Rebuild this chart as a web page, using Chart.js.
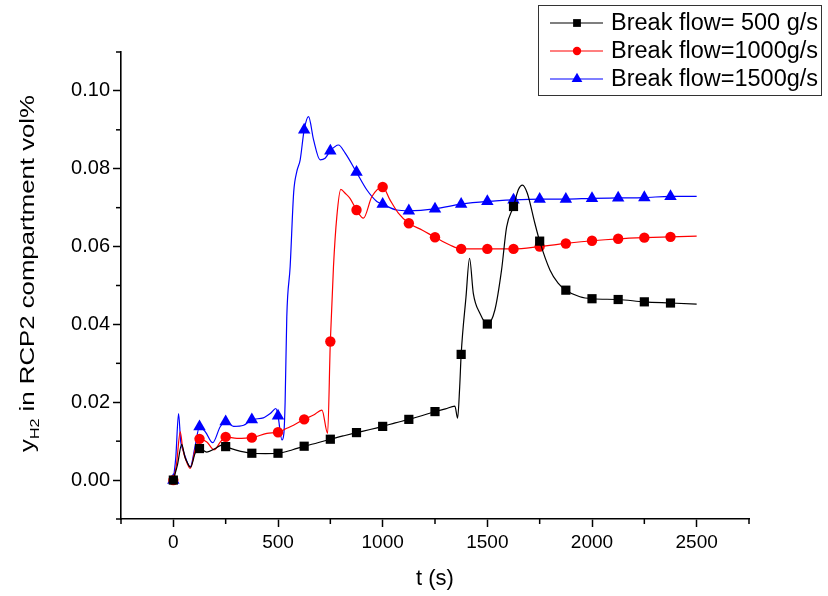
<!DOCTYPE html>
<html lang="en">
<head>
    <meta charset="UTF-8">
    <title>H2 in RCP2 compartment vs time</title>
    <script src="https://cdn.jsdelivr.net/npm/chart.js"></script>
    <style>
        html, body { margin: 0; padding: 0; background: #fff; }
        #wrap { width: 828px; height: 596px; }
    </style>
</head>
<body>
<div id="wrap"><canvas id="chart" width="828" height="596"></canvas></div>
<script>
// symbols are drawn every 125 s
const markerTimes = [0, 125, 250, 375, 500, 625, 750, 875, 1000, 1125, 1250, 1375,
                     1500, 1625, 1750, 1875, 2000, 2125, 2250, 2375];

// Break flow = 500 g/s
const t500 = [0, 20, 40, 55, 65, 82, 105, 125, 160, 200, 232, 250, 300, 375, 440, 500, 570, 625,
              690, 750, 815, 875, 940, 1000, 1060, 1125, 1190, 1250, 1300, 1345, 1358, 1368, 1375,
              1398, 1415, 1433, 1465, 1500, 1536, 1568, 1592, 1625, 1648, 1668, 1691, 1727, 1750,
              1799, 1838, 1875, 1942, 2000, 2125, 2250, 2375, 2500];
const y500 = [0, 0.004, 0.0092, 0.006, 0.0047, 0.0033, 0.007, 0.0081, 0.0072, 0.0081, 0.009, 0.0086,
              0.0077, 0.0069, 0.0068, 0.0069, 0.0078, 0.0087, 0.0096, 0.0105, 0.0114, 0.0122, 0.013,
              0.0138, 0.0147, 0.0156, 0.0166, 0.0176, 0.0183, 0.019, 0.0159, 0.024, 0.0323, 0.047,
              0.057, 0.048, 0.0428, 0.0401, 0.0437, 0.054, 0.065, 0.0703, 0.0746, 0.0758, 0.0737,
              0.066, 0.0614, 0.054, 0.0506, 0.0488, 0.0471, 0.0466, 0.0464, 0.0458, 0.0455, 0.0452];

// Break flow = 1000 g/s
const t1000 = [0, 15, 33, 45, 57, 81, 105, 125, 160, 195, 225, 250, 304, 375, 447, 500, 542, 574,
               625, 670, 710, 737, 750, 765, 781, 800, 821, 844, 875, 908, 948, 1000, 1035, 1075,
               1125, 1190, 1250, 1321, 1375, 1500, 1625, 1750, 1875, 2000, 2125, 2250, 2375, 2500];
const y1000 = [0, 0.004, 0.0124, 0.008, 0.0056, 0.003, 0.008, 0.0106, 0.0098, 0.0078, 0.0098, 0.0111,
               0.0107, 0.0109, 0.012, 0.0123, 0.0133, 0.0141, 0.0156, 0.0167, 0.018, 0.012, 0.0356,
               0.0548, 0.0677, 0.0747, 0.0737, 0.0724, 0.0694, 0.0673, 0.0728, 0.0753, 0.072, 0.0686,
               0.066, 0.0642, 0.0624, 0.0604, 0.0594, 0.0594, 0.0594, 0.06, 0.0608, 0.0615, 0.062,
               0.0623, 0.0625, 0.0627];

// Break flow = 1500 g/s
const t1500 = [0, 12, 25, 35, 49, 81, 105, 125, 153, 188, 224, 250, 288, 336, 375, 430, 463, 490,
               500, 519, 528, 534, 542, 558, 575, 590, 606, 625, 646, 670, 701, 725, 750, 789, 821,
               875, 924, 972, 1000, 1067, 1125, 1250, 1375, 1500, 1625, 1750, 1875, 2000, 2125,
               2250, 2375, 2500];
const y1500 = [0, 0.006, 0.0171, 0.01, 0.0073, 0.0034, 0.009, 0.0137, 0.0124, 0.0096, 0.0137, 0.015,
               0.0138, 0.0141, 0.0155, 0.016, 0.0171, 0.0184, 0.0165, 0.0103, 0.012, 0.02, 0.042,
               0.0548, 0.074, 0.0793, 0.0823, 0.09, 0.0934, 0.0874, 0.0823, 0.0827, 0.0846, 0.0861,
               0.084, 0.0791, 0.0746, 0.0716, 0.0709, 0.0694, 0.0692, 0.0697, 0.0709, 0.0716, 0.072,
               0.0722, 0.0722, 0.0724, 0.0725, 0.0726, 0.0729, 0.0729];

const seriesNames = ['Break flow= 500 g/s', 'Break flow=1000g/s', 'Break flow=1500g/s'];
const seriesColors = ['#000000', '#ff0000', '#0000ff'];
const seriesSymbols = ['rect', 'circle', 'triangle'];
const symbolSizes = [6.5, 5.2, 7.2];

const FONT = "'Liberation Sans', Arial, sans-serif";

function toPoints(ts, ys) {
    return ts.map((t, i) => ({ x: t, y: ys[i] }));
}

function makeSet(i, ts, ys) {
    return {
        label: seriesNames[i],
        data: toPoints(ts, ys),
        borderColor: seriesColors[i],
        backgroundColor: seriesColors[i],
        borderWidth: 1.2,
        cubicInterpolationMode: 'monotone',
        pointStyle: seriesSymbols[i],
        pointRadius: ctx => markerTimes.includes(ctx.raw.x) ? symbolSizes[i] : 0,
        pointHoverRadius: ctx => markerTimes.includes(ctx.raw.x) ? symbolSizes[i] : 0,
        pointBorderWidth: 0,
        pointBackgroundColor: seriesColors[i]
    };
}

// draw a symbol the same way Chart.js does
function drawSymbol(c, style, x, y, r, color) {
    c.fillStyle = color;
    c.beginPath();
    if (style === 'rect') {
        const s = Math.SQRT1_2 * r;
        c.rect(x - s, y - s, 2 * s, 2 * s);
    } else if (style === 'circle') {
        c.arc(x, y, r, 0, Math.PI * 2);
    } else {
        let a = 0;
        c.moveTo(x + Math.sin(a) * r, y - Math.cos(a) * r);
        a += 2 * Math.PI / 3;
        c.lineTo(x + Math.sin(a) * r, y - Math.cos(a) * r);
        a += 2 * Math.PI / 3;
        c.lineTo(x + Math.sin(a) * r, y - Math.cos(a) * r);
        c.closePath();
    }
    c.fill();
}

const isMajorX = v => Math.round(v) % 500 === 0 && v >= 0 && v <= 2500;
const isMajorY = v => { const k = Math.round(v * 100); return k % 2 === 0 && k >= 0 && k <= 10; };

const decorPlugin = {
    id: 'decor',
    afterDraw(chart) {
        const c = chart.ctx;
        const xs = chart.scales.x, ys = chart.scales.y;
        const area = chart.chartArea;
        c.save();

        // minor ticks
        c.strokeStyle = '#000';
        c.lineWidth = 1.5;
        xs.ticks.forEach(t => {
            if (isMajorX(t.value)) return;
            const px = xs.getPixelForValue(t.value);
            c.beginPath(); c.moveTo(px, area.bottom); c.lineTo(px, area.bottom + 5); c.stroke();
        });
        ys.ticks.forEach(t => {
            if (isMajorY(t.value)) return;
            const py = ys.getPixelForValue(t.value);
            c.beginPath(); c.moveTo(area.left, py); c.lineTo(area.left - 5, py); c.stroke();
        });

        // axis titles
        c.fillStyle = '#000';
        c.font = '22px ' + FONT;
        c.textAlign = 'center';
        c.textBaseline = 'middle';
        c.fillText('t (s)', 435, 579);

        // y title with subscript, stretched along its reading direction like the original
        c.save();
        c.translate(34, 273.5);
        c.rotate(-Math.PI / 2);
        c.textBaseline = 'alphabetic';
        c.textAlign = 'left';
        const big = '20px ' + FONT, small = '12.5px ' + FONT;
        const rest = ' in RCP2 compartment vol%';
        c.font = big; const wy = c.measureText('y').width; const wr = c.measureText(rest).width;
        c.font = small; const ws = c.measureText('H2').width;
        const total = wy + ws + wr;
        c.scale(357 / total, 1);
        let x0 = -total / 2;
        c.font = big; c.fillText('y', x0, 0); x0 += wy;
        c.font = small; c.fillText('H2', x0, 5); x0 += ws;
        c.font = big; c.fillText(rest, x0, 0);
        c.restore();

        // legend box
        c.strokeStyle = '#333';
        c.lineWidth = 1;
        c.strokeRect(538.5, 5.5, 283, 90);
        const rowY = [23, 51, 79];
        c.font = '23.5px ' + FONT;
        c.textAlign = 'left';
        c.textBaseline = 'middle';
        seriesNames.forEach((name, i) => {
            c.strokeStyle = seriesColors[i];
            c.lineWidth = 1.2;
            c.beginPath(); c.moveTo(550, rowY[i]); c.lineTo(603, rowY[i]); c.stroke();
            drawSymbol(c, seriesSymbols[i], 577, rowY[i], symbolSizes[i] - 1, seriesColors[i]);
            c.fillStyle = '#000';
            c.fillText(name, 611, rowY[i] + 1);
        });
        c.restore();
    }
};

const ctx = document.getElementById('chart').getContext('2d');
new Chart(ctx, {
    type: 'line',
    data: {
        datasets: [
            makeSet(0, t500, y500),
            makeSet(1, t1000, y1000),
            makeSet(2, t1500, y1500)
        ]
    },
    options: {
        responsive: false,
        animation: false,
        events: [],
        layout: { padding: { left: 0, top: 52, right: 79, bottom: 0 } },
        plugins: {
            legend: { display: false },
            tooltip: { enabled: false }
        },
        scales: {
            x: {
                type: 'linear',
                min: -250,
                max: 2750,
                afterFit: s => { s.height = 77; },
                border: { display: true, color: '#000', width: 1.6 },
                grid: {
                    drawOnChartArea: false,
                    drawTicks: true,
                    tickLength: 8,
                    tickWidth: 1.5,
                    tickColor: c => isMajorX(c.tick.value) ? '#000' : 'rgba(0,0,0,0)'
                },
                ticks: {
                    stepSize: 250,
                    autoSkip: false,
                    maxRotation: 0,
                    padding: 4,
                    color: '#000',
                    font: { family: FONT, size: 19 },
                    callback: v => isMajorX(v) ? String(Math.round(v)) : ''
                }
            },
            y: {
                type: 'linear',
                min: -0.01,
                max: 0.11,
                afterFit: s => { s.width = 121; },
                border: { display: true, color: '#000', width: 1.6 },
                grid: {
                    drawOnChartArea: false,
                    drawTicks: true,
                    tickLength: 8,
                    tickWidth: 1.5,
                    tickColor: c => isMajorY(c.tick.value) ? '#000' : 'rgba(0,0,0,0)'
                },
                ticks: {
                    stepSize: 0.01,
                    autoSkip: false,
                    padding: 3,
                    color: '#000',
                    font: { family: FONT, size: 20 },
                    callback: v => isMajorY(v) ? (Math.round(v * 100) / 100).toFixed(2) : ''
                }
            }
        }
    },
    plugins: [decorPlugin]
});
</script>
</body>
</html>
